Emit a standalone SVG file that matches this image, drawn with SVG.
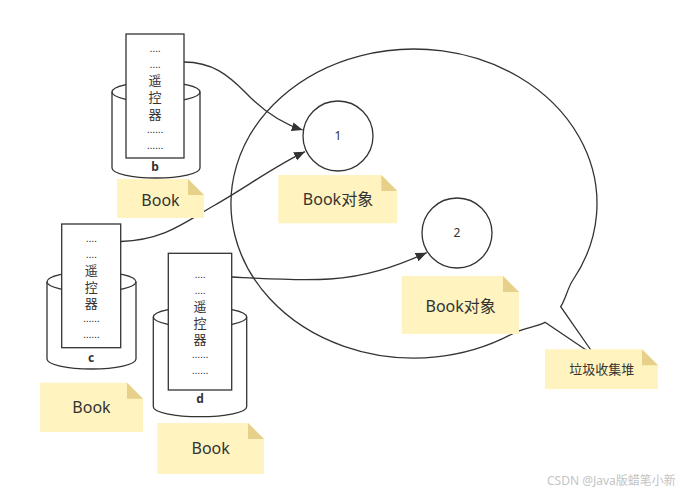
<svg xmlns="http://www.w3.org/2000/svg" width="688" height="494" viewBox="0 0 688 494">
<style>
.ln{fill:none;stroke:#333;stroke-width:1.3}
.sh{fill:#fff;stroke:#333;stroke-width:1.3}
.note{fill:#fff3bf}
.fold{fill:#e6d08a}
.t{font-family:"Noto Sans","Noto Sans CJK SC",sans-serif;fill:#333;text-anchor:middle}
.rt{font-size:13px}
.dt{font-family:"Liberation Sans",sans-serif;font-size:11px;letter-spacing:-0.3px}
.nt{font-size:16px}
.lb{font-size:12px;font-weight:bold}
.ct{font-size:12px}
.wm{font-family:"Noto Sans","Noto Sans CJK SC",sans-serif;font-size:12px;fill:#c4c4c4}
</style>
<defs>
<marker id="arr" markerUnits="userSpaceOnUse" markerWidth="12" markerHeight="10" refX="11" refY="4.5" orient="auto">
<path d="M0,0 L11,4.5 L0,9 Z" fill="#333"/>
</marker>
</defs>

<g id="heap">
<path class="sh" d="M513.7,333.1 C522.5,328.3 536.1,326.9 545,322.3 L595,356 L560.7,306.7 C565.1,300.1 568,287.4 572.5,280.75 A183,154.5 0 1 0 513.7,333.1 Z"/>
</g>

<g id="obj1">
<circle class="sh" cx="338" cy="136" r="35"/>
<text class="t ct" x="338" y="140">1</text>
</g>
<g id="obj2">
<circle class="sh" cx="457" cy="233" r="35"/>
<text class="t ct" x="457" y="237">2</text>
</g>

<g id="cyl-b">
<path class="sh" d="M112,92 A44,10 0 0 1 200,92 L200,168 A44,10 0 0 1 112,168 Z"/>
<path class="ln" d="M112,92 A44,10 0 0 0 200,92"/>
<rect class="sh" x="126" y="34" width="58" height="124"/>
<text class="t rt"><tspan class="dt" x="155" y="52">....</tspan><tspan class="dt" x="155" y="68">....</tspan><tspan x="155" y="85">遥</tspan><tspan x="155" y="102">控</tspan><tspan x="155" y="118.5">器</tspan><tspan class="dt" x="155" y="132.5">......</tspan><tspan class="dt" x="155" y="148.5">......</tspan></text>
<text class="t lb" x="155" y="171">b</text>
</g>

<g id="cyl-c">
<path class="sh" d="M47,281.7 A44.5,10 0 0 1 136,281.7 L136,359 A44.5,10 0 0 1 47,359 Z"/>
<path class="ln" d="M47,281.7 A44.5,10 0 0 0 136,281.7"/>
<rect class="sh" x="61.7" y="224" width="59" height="123.7"/>
<text class="t rt"><tspan class="dt" x="91.2" y="241.8">....</tspan><tspan class="dt" x="91.2" y="257.8">....</tspan><tspan x="91.2" y="274.8">遥</tspan><tspan x="91.2" y="291.8">控</tspan><tspan x="91.2" y="308.3">器</tspan><tspan class="dt" x="91.2" y="322.3">......</tspan><tspan class="dt" x="91.2" y="338.3">......</tspan></text>
<text class="t lb" x="91.2" y="362">c</text>
</g>

<g id="cyl-d">
<path class="sh" d="M153.3,317 A46.7,10 0 0 1 246.7,317 L246.7,406.7 A46.7,10 0 0 1 153.3,406.7 Z"/>
<path class="ln" d="M153.3,317 A46.7,10 0 0 0 246.7,317"/>
<rect class="sh" x="168.3" y="253.3" width="63.4" height="136.7"/>
<text class="t rt"><tspan class="dt" x="200" y="277.7">....</tspan><tspan class="dt" x="200" y="293.7">....</tspan><tspan x="200" y="310.7">遥</tspan><tspan x="200" y="327.7">控</tspan><tspan x="200" y="344.2">器</tspan><tspan class="dt" x="200" y="358.2">......</tspan><tspan class="dt" x="200" y="374.2">......</tspan></text>
<text class="t lb" x="200" y="403">d</text>
</g>

<g id="connectors">
<path class="ln" marker-end="url(#arr)" d="M184,62 C212,62 228,75 245,92 C262,110 280,123 302.7,130"/>
<path class="ln" marker-end="url(#arr)" d="M120.7,241.5 C165,240 185,222 215,205 C245,188 275,166 305,151.7"/>
<path class="ln" marker-end="url(#arr)" d="M231.7,277 C270,279 300,281 330,279 C365,277 395,267 426.7,252.7"/>
</g>

<g id="note-b">
<path class="note" d="M117,179 L188,179 L204,195 L204,218 L117,218 Z"/>
<path class="fold" d="M188,179 L204,195 L188,195 Z"/>
<text class="t nt" x="160.5" y="205.5">Book</text>
</g>
<g id="note-c">
<path class="note" d="M40,382.7 L127,382.7 L143,398.7 L143,432 L40,432 Z"/>
<path class="fold" d="M127,382.7 L143,398.7 L127,398.7 Z"/>
<text class="t nt" x="91.5" y="412.5">Book</text>
</g>
<g id="note-d">
<path class="note" d="M157.3,423 L248,423 L264,439 L264,474 L157.3,474 Z"/>
<path class="fold" d="M248,423 L264,439 L248,439 Z"/>
<text class="t nt" x="210.7" y="453.5">Book</text>
</g>
<g id="note-1">
<path class="note" d="M278.3,175 L381.3,175 L397.3,191 L397.3,223.3 L278.3,223.3 Z"/>
<path class="fold" d="M381.3,175 L397.3,191 L381.3,191 Z"/>
<text class="t nt" x="338" y="205">Book对象</text>
</g>
<g id="note-2">
<path class="note" d="M401.7,276 L503,276 L519,292 L519,334 L401.7,334 Z"/>
<path class="fold" d="M503,276 L519,292 L503,292 Z"/>
<text class="t nt" x="460.7" y="311.5">Book对象</text>
</g>
<g id="note-heap">
<path class="note" d="M545,349.3 L642,349.3 L658,365.3 L658,389 L545,389 Z"/>
<path class="fold" d="M642,349.3 L658,365.3 L642,365.3 Z"/>
<text class="t" style="font-size:13px" x="601.7" y="374">垃圾收集堆</text>
</g>

<text class="wm" x="547" y="485">CSDN @Java版蜡笔小新</text>
</svg>
